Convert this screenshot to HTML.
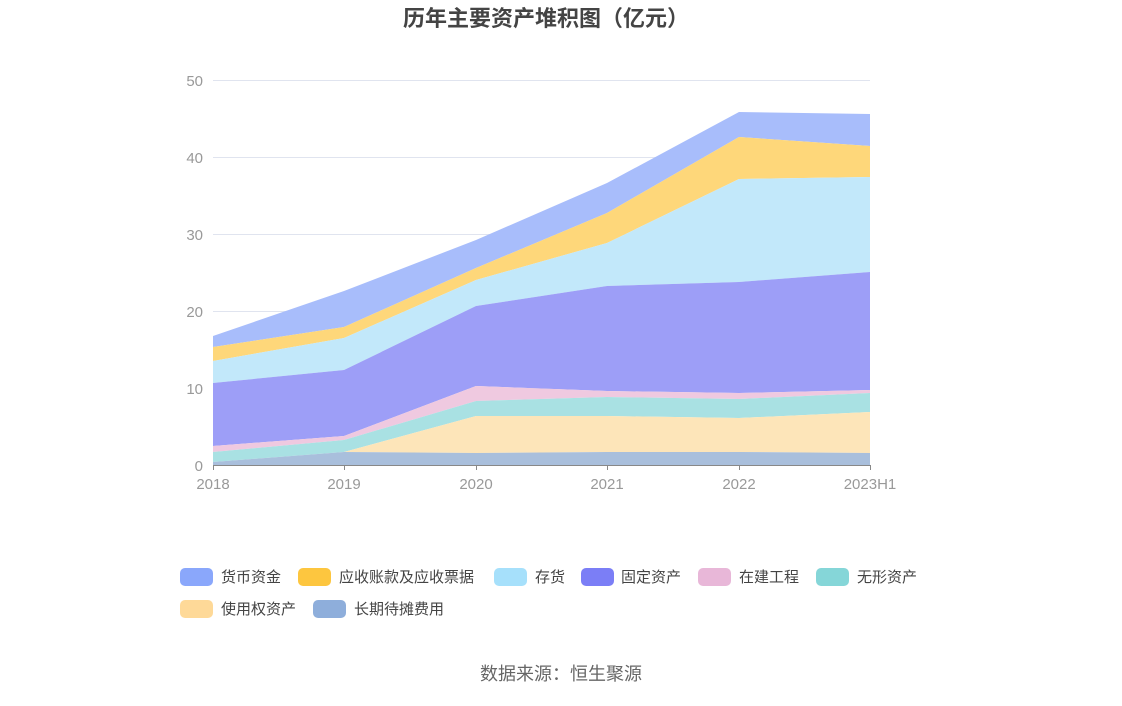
<!DOCTYPE html>
<html><head><meta charset="utf-8"><style>
body{margin:0;background:#fff;font-family:"Liberation Sans","Noto Sans CJK SC",sans-serif;}
</style></head><body>
<svg width="1122" height="701" xmlns="http://www.w3.org/2000/svg" font-family="Liberation Sans, Noto Sans CJK SC, sans-serif">
<text x="546" y="26" text-anchor="middle" font-size="22" font-weight="bold" fill="#444">历年主要资产堆积图（亿元）</text>
<g stroke="#e0e4ef" stroke-width="1">
<line x1="213" y1="80.5" x2="870" y2="80.5"/><line x1="213" y1="157.5" x2="870" y2="157.5"/>
<line x1="213" y1="234.5" x2="870" y2="234.5"/><line x1="213" y1="311.5" x2="870" y2="311.5"/>
<line x1="213" y1="388.5" x2="870" y2="388.5"/>
</g>
<g font-size="15" fill="#999" text-anchor="end">
<text x="203" y="86">50</text><text x="203" y="163">40</text><text x="203" y="240">30</text>
<text x="203" y="317">20</text><text x="203" y="394">10</text><text x="203" y="471">0</text>
</g>
<polygon fill="#a8bdfb" points="213,336 344,291 476,240 607,183 739,112 870,114 870,146 739,137 607,213 476,268 344,327 213,347"/>
<polygon fill="#fed77a" points="213,347 344,327 476,268 607,213 739,137 870,146 870,177 739,179 607,243 476,280 344,338 213,361"/>
<polygon fill="#c2e8fa" points="213,361 344,338 476,280 607,243 739,179 870,177 870,272 739,282 607,286 476,306 344,370 213,383"/>
<polygon fill="#9d9ef7" points="213,383 344,370 476,306 607,286 739,282 870,272 870,390 739,393 607,391 476,386 344,436 213,446"/>
<polygon fill="#efc9e0" points="213,446 344,436 476,386 607,391 739,393 870,390 870,393 739,399 607,397 476,401 344,440 213,452"/>
<polygon fill="#a9e1e3" points="213,452 344,440 476,401 607,397 739,399 870,393 870,412 739,418 607,416 476,416 344,452 213,462"/>
<polygon fill="#fde5b9" points="213,462 344,452 476,416 607,416 739,418 870,412 870,453 739,452 607,452 476,453 344,452 213,462"/>
<polygon fill="#a9bfdc" points="213,462 344,452 476,453 607,452 739,452 870,453 870,465 213,465"/>
<line x1="213" y1="465.5" x2="870" y2="465.5" stroke="#888"/>
<g stroke="#888"><line x1="213.5" y1="465" x2="213.5" y2="470"/><line x1="344.5" y1="465" x2="344.5" y2="470"/><line x1="476.5" y1="465" x2="476.5" y2="470"/><line x1="607.5" y1="465" x2="607.5" y2="470"/><line x1="739.5" y1="465" x2="739.5" y2="470"/><line x1="870.5" y1="465" x2="870.5" y2="470"/></g>
<g font-size="15" fill="#999" text-anchor="middle">
<text x="213" y="489">2018</text><text x="344" y="489">2019</text><text x="476" y="489">2020</text>
<text x="607" y="489">2021</text><text x="739" y="489">2022</text><text x="870" y="489">2023H1</text>
</g>
<g font-size="15" fill="#444">
<rect x="180" y="568" width="33" height="18" rx="5" fill="#8aa7fb"/><text x="221" y="582">货币资金</text>
<rect x="298" y="568" width="33" height="18" rx="5" fill="#fdc63f"/><text x="339" y="582">应收账款及应收票据</text>
<rect x="494" y="568" width="33" height="18" rx="5" fill="#a6e0fb"/><text x="535" y="582">存货</text>
<rect x="581" y="568" width="33" height="18" rx="5" fill="#7b7ef6"/><text x="621" y="582">固定资产</text>
<rect x="698" y="568" width="33" height="18" rx="5" fill="#e8b7d8"/><text x="739" y="582">在建工程</text>
<rect x="816" y="568" width="33" height="18" rx="5" fill="#85d6d8"/><text x="857" y="582">无形资产</text>
<rect x="180" y="600" width="33" height="18" rx="5" fill="#fed998"/><text x="221" y="614">使用权资产</text>
<rect x="313" y="600" width="33" height="18" rx="5" fill="#8eaedb"/><text x="354" y="614">长期待摊费用</text>
</g>
<text x="561" y="680" text-anchor="middle" font-size="18" fill="#666">数据来源：恒生聚源</text>
</svg>
</body></html>
